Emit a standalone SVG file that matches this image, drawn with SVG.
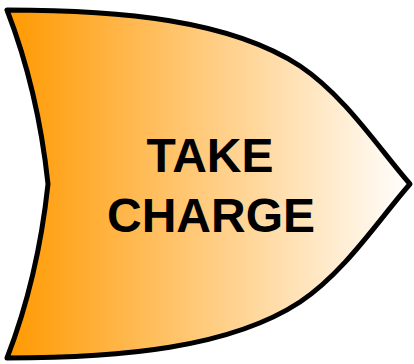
<svg xmlns="http://www.w3.org/2000/svg" width="414" height="364" viewBox="0 0 414 364">
  <defs>
    <linearGradient id="g" x1="7" y1="0" x2="410" y2="0" gradientUnits="userSpaceOnUse">
      <stop offset="0" stop-color="#ff9900"/>
      <stop offset="1" stop-color="#ffffff"/>
    </linearGradient>
    <style>
      .shape { fill: url(#g); stroke: #000; stroke-width: 5; stroke-linejoin: round; }
      .lbl { font-family: "Liberation Sans", Arial, sans-serif; font-weight: bold; font-size: 48px; fill: #000; text-anchor: middle; }
    </style>
  </defs>
  <g id="take-charge">
    <path class="shape" d="M7,10 C120,10 230,20 300,66 C345,96 380,150 410,184 C380,218 345,272 300,302 C230,348 120,358 7,358 Q38,278 48,184 Q38,90 7,10 Z"/>
    <text class="lbl" x="210" y="172">TAKE</text>
    <text class="lbl" x="211" y="232">CHARGE</text>
  </g>
</svg>
